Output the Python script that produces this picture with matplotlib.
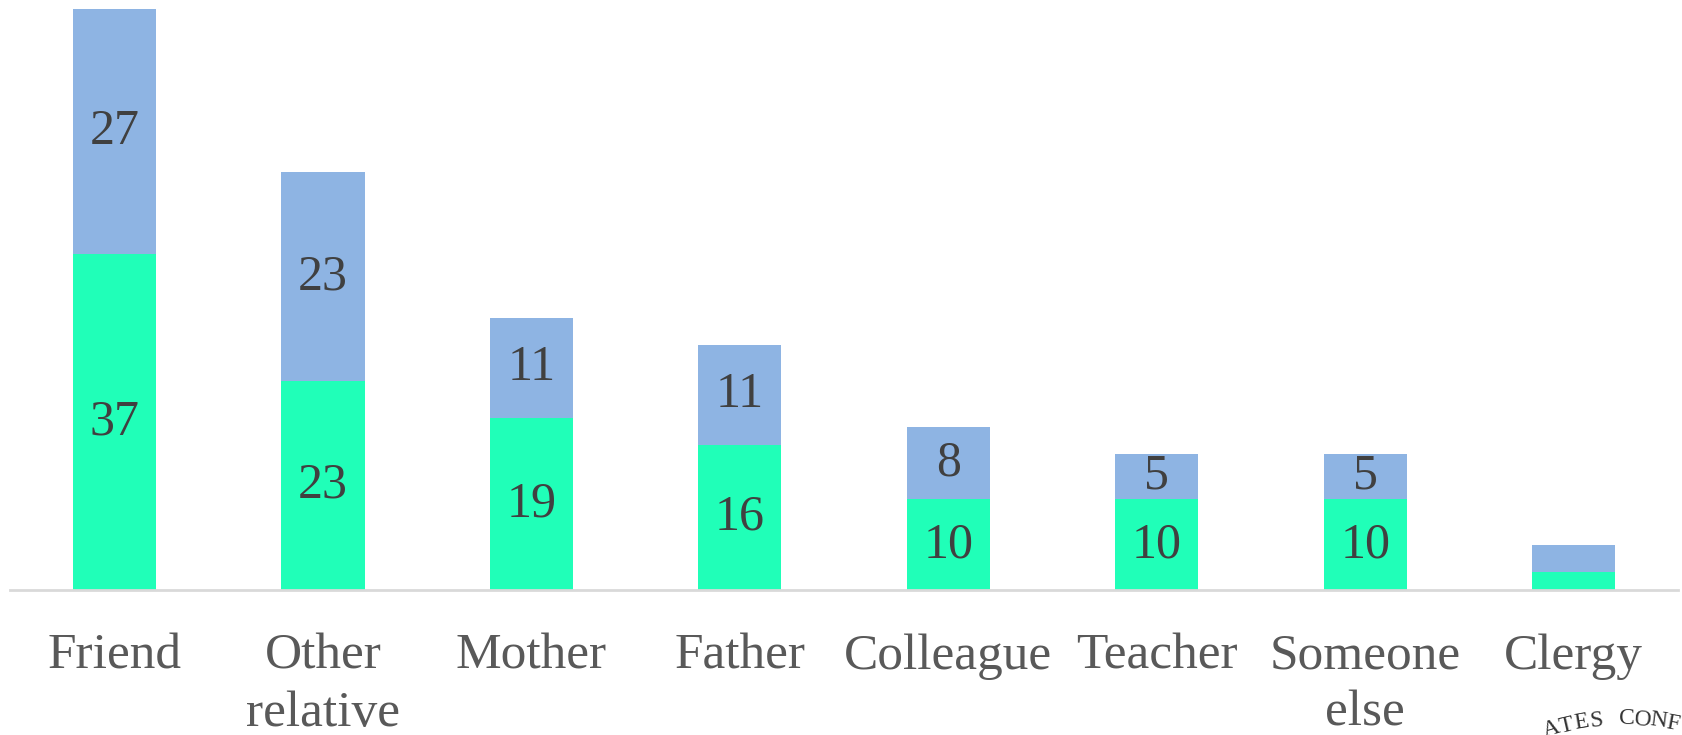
import matplotlib
matplotlib.use("Agg")
import matplotlib.pyplot as plt
import numpy as np

categories = ["Friend", "Other\nrelative", "Mother", "Father", "Colleague", "Teacher", "Someone\nelse", "Clergy"]
bottom_vals = [37, 23, 19, 16, 10, 10, 10, 2]
top_vals = [27, 23, 11, 11, 8, 5, 5, 3]

green = "#20FFB8"
blue = "#8EB4E3"
serif = ["Liberation Serif", "DejaVu Serif"]

fig = plt.figure(figsize=(16.83, 7.35), dpi=100)
ax = fig.add_axes([0.006, 0.197, 0.991, 0.791])

x = np.arange(len(categories))
ax.bar(x, bottom_vals, width=0.40, color=green, edgecolor="none")
ax.bar(x, top_vals, width=0.40, bottom=bottom_vals, color=blue, edgecolor="none")

for i in range(len(categories)):
    if bottom_vals[i] >= 5:
        ax.text(x[i], bottom_vals[i] / 2, str(bottom_vals[i]), ha="center", va="center",
                fontsize=36, color="#404040", family=serif)
    if top_vals[i] >= 5:
        ax.text(x[i], bottom_vals[i] + top_vals[i] / 2, str(top_vals[i]), ha="center", va="center",
                fontsize=36, color="#404040", family=serif)

ax.set_xlim(-0.5, len(categories) - 0.5)
ax.set_ylim(0, 64)
ax.set_xticks(x)
ax.set_xticklabels(categories, fontsize=37, color="#595959", family=serif, linespacing=1.3)
ax.tick_params(axis="x", length=0, pad=31)
ax.set_yticks([])
for s in ["left", "right", "top"]:
    ax.spines[s].set_visible(False)
ax.spines["bottom"].set_color("#D9D9D9")
ax.spines["bottom"].set_linewidth(2)

# partial stamp watermark at bottom right
cx, cy, r = 1625, -244, 260
letters = "ATES CONF"
angles = 106.5 - 3.4 * np.arange(len(letters))
for ch, a in zip(letters, angles):
    px = cx + r * np.cos(np.radians(a))
    py = cy + r * np.sin(np.radians(a))
    fig.text(px / 1683, py / 735, ch, rotation=a - 90, ha="center", va="center",
             fontsize=17, color="#333333", family=serif)

fig.savefig("out.png", dpi=100)
